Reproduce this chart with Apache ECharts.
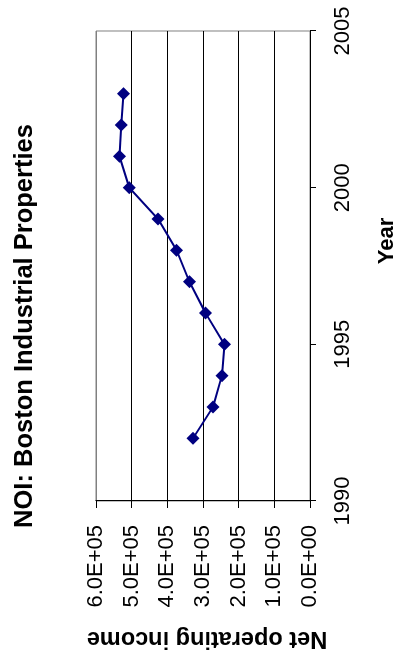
<!DOCTYPE html>
<html>
<head>
<meta charset="utf-8">
<title>NOI: Boston Industrial Properties</title>
<script src="https://cdn.jsdelivr.net/npm/echarts@6/dist/echarts.min.js"></script>
<style>
  html, body { margin: 0; padding: 0; background: #fff; overflow: hidden; }
  /* The chart is laid out landscape and turned a quarter turn counter-clockwise */
  #chart {
    position: absolute; left: 0; top: 0;
    width: 652px; height: 398px;
    transform-origin: 0 0;
    transform: translate(0, 652px) rotate(-90deg);
  }
</style>
</head>
<body>
<div id="chart"></div>
<script>
// Net operating income by year
const years = [1992, 1993, 1994, 1995, 1996, 1997, 1998, 1999, 2000, 2001, 2002, 2003];
const noi = [328000, 272000, 247000, 240000, 293000, 338000, 374000, 426000, 507000, 534000, 529000, 523000];

const titleText = 'NOI: Boston Industrial Properties';
const xName = 'Year';
const yName = 'Net operating income';

const FONT = '"Liberation Sans", Arial, sans-serif';

// 600000 -> "6.0E+05"
function sci(v) {
  if (v === 0) return '0.0E+00';
  const [m, e] = v.toExponential(1).split('e');
  const n = parseInt(e, 10);
  const sign = n < 0 ? '-' : '+';
  const abs = Math.abs(n);
  return m + 'E' + sign + (abs < 10 ? '0' + abs : String(abs));
}

const chart = echarts.init(document.getElementById('chart'), null, { renderer: 'canvas' });
chart.setOption({
  backgroundColor: '#ffffff',
  animation: false,
  title: {
    text: titleText,
    left: 'center',
    top: 7,
    textStyle: { fontFamily: FONT, fontSize: 25.5, fontWeight: 'bold', color: '#000' }
  },
  grid: {
    left: 151, right: 31, top: 96, bottom: 88,
    containLabel: false,
    outerBoundsMode: 'none',
    show: true, borderColor: '#808080', borderWidth: 1, backgroundColor: 'transparent'
  },
  xAxis: {
    type: 'value',
    min: 1990, max: 2005, interval: 5,
    name: xName,
    nameLocation: 'middle',
    nameGap: 66,
    nameTextStyle: { fontFamily: FONT, fontSize: 22, fontWeight: 'bold', color: '#000', padding: [0, 0, 0, 50] },
    axisLine: { show: true, lineStyle: { color: '#000', width: 1 } },
    axisTick: { show: true, inside: false, length: 6, lineStyle: { color: '#000' } },
    axisLabel: { fontFamily: FONT, fontSize: 22, color: '#000', margin: 22, formatter: v => String(v) },
    splitLine: { show: false }
  },
  yAxis: {
    type: 'value',
    min: 0, max: 600000, interval: 100000,
    name: yName,
    nameLocation: 'middle',
    nameRotate: 90,
    nameGap: 125,
    nameTextStyle: { fontFamily: FONT, fontSize: 23.5, fontWeight: 'bold', color: '#000', padding: [0, 8, 0, 0] },
    axisLine: { show: true, lineStyle: { color: '#000', width: 1 } },
    axisTick: { show: true, inside: false, length: 7, lineStyle: { color: '#000' } },
    axisLabel: { fontFamily: FONT, fontSize: 22, color: '#000', margin: 24, formatter: sci },
    splitLine: {
      show: true,
      lineStyle: { color: ['#000', '#000', '#000', '#000', '#000', '#000', '#808080'], width: 1 }
    }
  },
  series: [{
    type: 'line',
    data: years.map((y, i) => [y, noi[i]]),
    symbol: 'diamond',
    symbolSize: 13,
    showSymbol: true,
    lineStyle: { color: '#000080', width: 2 },
    itemStyle: { color: '#000080' }
  }]
});
</script>
</body>
</html>
